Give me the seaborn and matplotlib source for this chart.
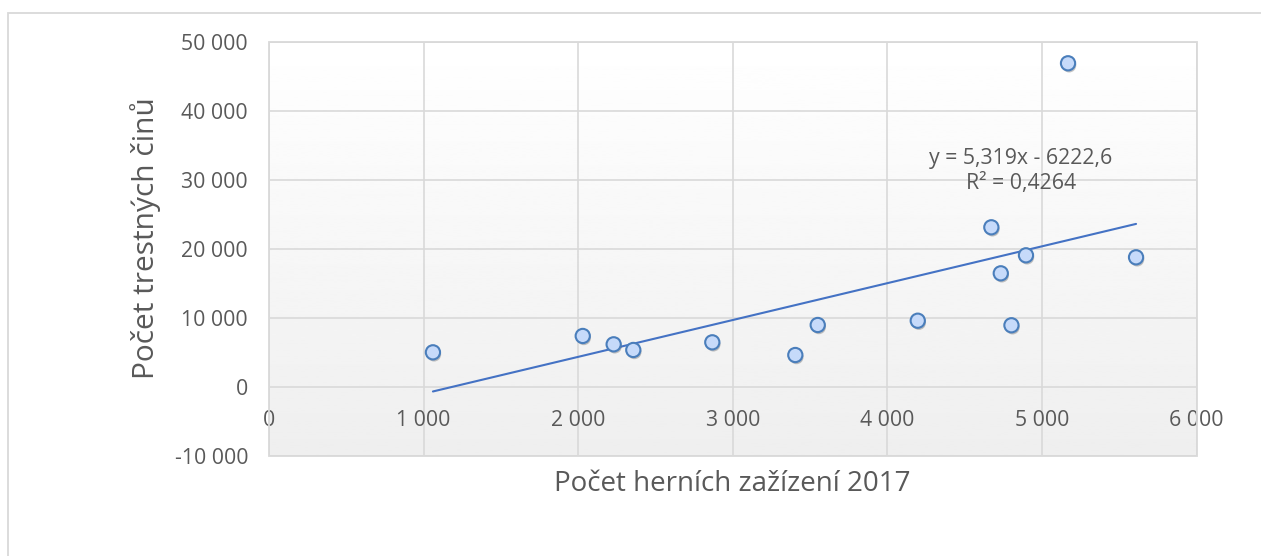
import numpy as np
import pandas as pd
import matplotlib.pyplot as plt
import matplotlib.patheffects as pe
from matplotlib.patches import Rectangle
from matplotlib.ticker import FuncFormatter, MultipleLocator
import seaborn as sns

# data
herni_zarizeni = [1061, 2030, 2230, 2357, 2868, 3405, 3550, 4197, 4673, 4734, 4803, 4897, 5169, 5609]
trestne_ciny = [5070, 7440, 6230, 5410, 6520, 4680, 9030, 9650, 23190, 16520, 8990, 19130, 46960, 18840]
rovnice = "y = 5,319x - 6222,6\nR² = 0,4264"
x_label = "Počet herních zažízení 2017"
y_label = "Počet trestných činů"

df = pd.DataFrame({"x": herni_zarizeni, "y": trestne_ciny})

TEXT = "#595959"
GRID = "#d9d9d9"
LINE = "#4472c4"

sns.set_theme(style="white")
plt.rcParams["font.family"] = ["Open Sans", "DejaVu Sans"]

fig = plt.figure(figsize=(12.61, 5.56), dpi=100, facecolor="white")
ax = fig.add_axes([268.9 / 1261, 1 - 456.3 / 556, (1196.5 - 268.9) / 1261, (456.3 - 42.3) / 556])

# outer chart border
fig.patches.append(Rectangle((8 / 1261, -0.2), 1.1, 1.2 - 13 / 556, transform=fig.transFigure,
                             fill=False, edgecolor=GRID, lw=1.3, zorder=0))

# plot area gradient
grad = np.linspace(1.0, 0.935, 256).reshape(-1, 1)
ax.imshow(grad, extent=[0, 1, 0, 1], transform=ax.transAxes, cmap="gray", vmin=0, vmax=1,
          aspect="auto", zorder=0)

ax.set_xlim(0, 6000)
ax.set_ylim(-10000, 50000)
ax.xaxis.set_major_locator(MultipleLocator(1000))
ax.yaxis.set_major_locator(MultipleLocator(10000))
fmt = FuncFormatter(lambda v, p: f"{v:,.0f}".replace(",", " "))
ax.xaxis.set_major_formatter(fmt)
ax.yaxis.set_major_formatter(fmt)
ax.grid(True, color=GRID, lw=1.2, zorder=1)
ax.set_axisbelow(True)

sns.regplot(data=df, x="x", y="y", scatter=False, ci=None, truncate=True, ax=ax,
            line_kws={"color": LINE, "lw": 1.5, "zorder": 3})
sns.scatterplot(data=df, x="x", y="y", ax=ax, s=105, color="#c6dafa", edgecolor="#4a7ebb",
                linewidth=1.5, zorder=4,
                path_effects=[pe.SimplePatchShadow(offset=(0.8, -1.5), alpha=0.35, shadow_rgbFace="#555555"),
                              pe.Normal()])

ax.text(4865, 31350, rovnice, ha="center", va="center", fontsize=15.3, color=TEXT, linespacing=1.3)

for s in ax.spines.values():
    s.set_visible(False)
ax.spines["bottom"].set_position(("data", 0))
ax.add_patch(Rectangle((0, 0), 1, 1, transform=ax.transAxes, fill=False, edgecolor=GRID,
                       lw=1.3, zorder=2, clip_on=False))

ax.tick_params(axis="both", length=0, labelsize=15.3, labelcolor=TEXT)
ax.tick_params(axis="y", pad=15)
ax.tick_params(axis="x", pad=16)

ax.set_xlabel("")
ax.set_ylabel("")
fig.text(732 / 1261, 1 - 484 / 556, x_label, ha="center", va="center", fontsize=20, color=TEXT)
fig.text(146 / 1261, 1 - 238 / 556, y_label, ha="center", va="center", rotation=90, fontsize=21.5, color=TEXT)

fig.savefig("out.png", dpi=100, facecolor="white")
